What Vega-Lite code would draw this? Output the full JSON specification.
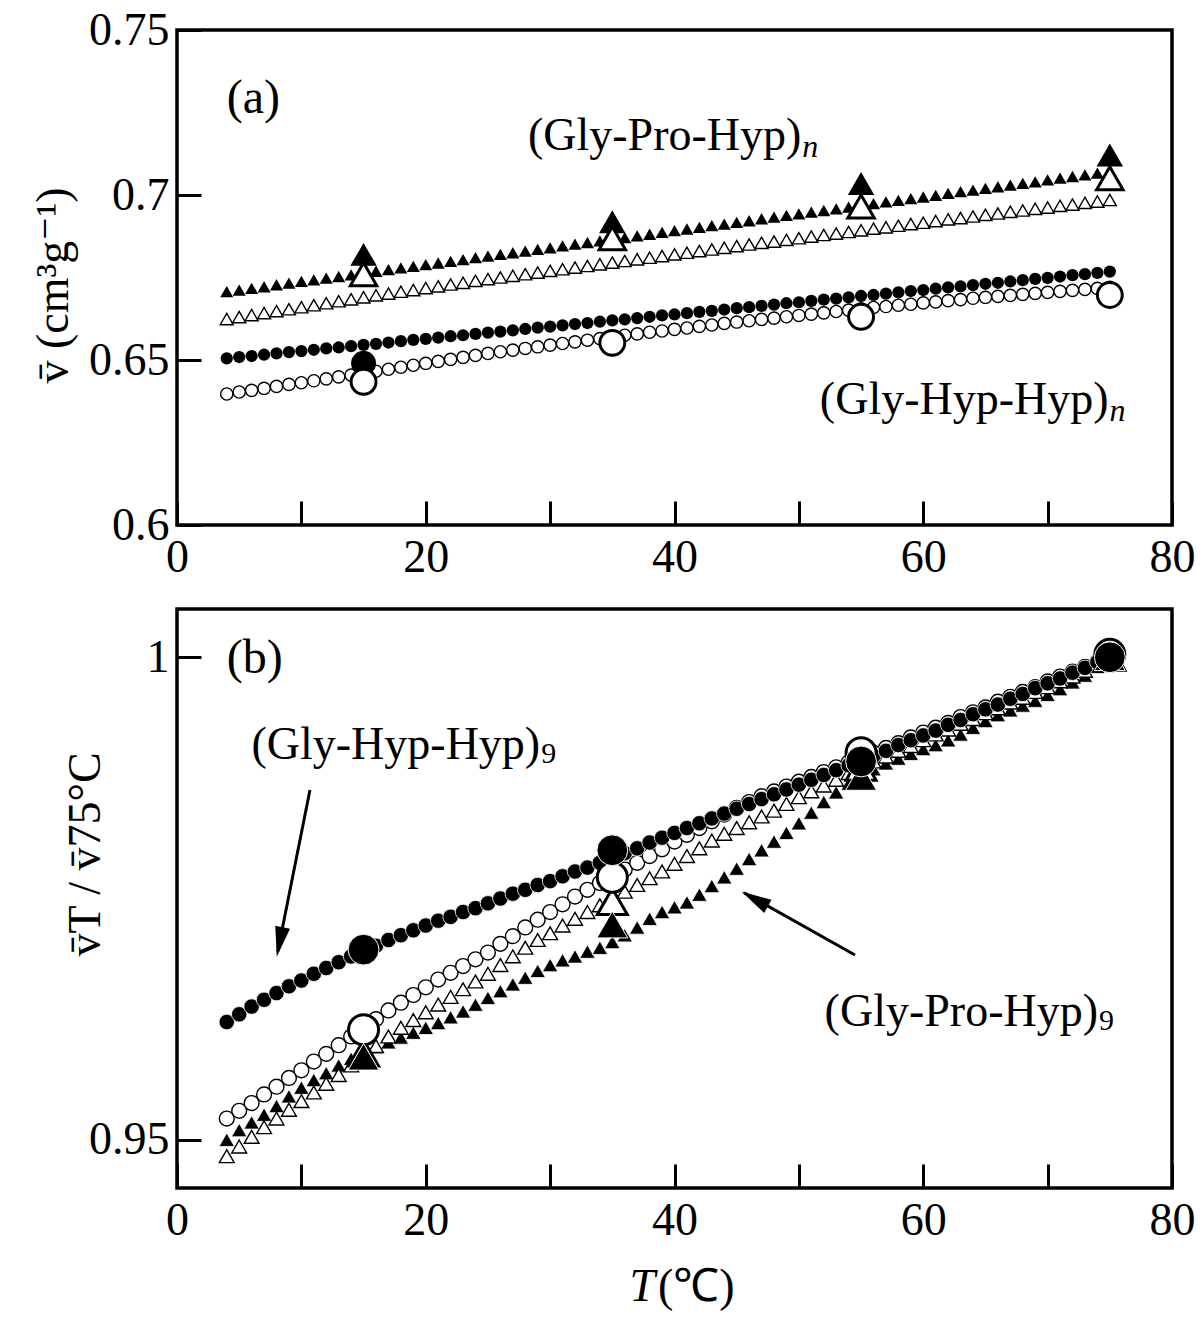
{
"$schema": "https://vega.github.io/schema/vega-lite/v6.json",
"padding": {"left": 28, "top": 5, "right": 5, "bottom": 5},
"background": "white",
"bounds": "flush",
"spacing": 84,
"config": {
  "font": "Liberation Serif",
  "view": {"stroke": "black", "strokeWidth": 3.5},
  "axis": {"domain": false, "grid": false, "labelFont": "Liberation Serif", "labelFontSize": 46, "labelColor": "black", "tickColor": "black", "tickWidth": 3, "titleFont": "Liberation Serif, DejaVu Serif", "titleFontSize": 46, "titleFontWeight": "normal", "titleColor": "black", "labelFlush": false, "labelOverlap": false},
  "text": {"font": "Liberation Serif", "color": "black"}
},
"datasets": {
"one": [{}],
"a": [
{"T":4,"FT":0.6707,"OT":0.6624,"FC":0.6505,"OC":0.6397},
{"T":5,"FT":0.6712,"OT":0.6630,"FC":0.6509,"OC":0.6403},
{"T":6,"FT":0.6717,"OT":0.6636,"FC":0.6512,"OC":0.6408},
{"T":7,"FT":0.6722,"OT":0.6642,"FC":0.6516,"OC":0.6414},
{"T":8,"FT":0.6728,"OT":0.6648,"FC":0.6520,"OC":0.6420},
{"T":9,"FT":0.6733,"OT":0.6654,"FC":0.6524,"OC":0.6426},
{"T":10,"FT":0.6738,"OT":0.6660,"FC":0.6527,"OC":0.6431},
{"T":11,"FT":0.6743,"OT":0.6666,"FC":0.6531,"OC":0.6437},
{"T":12,"FT":0.6748,"OT":0.6672,"FC":0.6535,"OC":0.6443},
{"T":13,"FT":0.6753,"OT":0.6678,"FC":0.6538,"OC":0.6449},
{"T":14,"FT":0.6758,"OT":0.6684,"FC":0.6542,"OC":0.6454},
{"T":15,"FT":0.6763,"OT":0.6690,"FC":0.6546,"OC":0.6460},
{"T":16,"FT":0.6769,"OT":0.6696,"FC":0.6549,"OC":0.6466},
{"T":17,"FT":0.6774,"OT":0.6701,"FC":0.6553,"OC":0.6472},
{"T":18,"FT":0.6779,"OT":0.6707,"FC":0.6557,"OC":0.6478},
{"T":19,"FT":0.6784,"OT":0.6712,"FC":0.6561,"OC":0.6484},
{"T":20,"FT":0.6789,"OT":0.6718,"FC":0.6564,"OC":0.6490},
{"T":21,"FT":0.6794,"OT":0.6723,"FC":0.6568,"OC":0.6496},
{"T":22,"FT":0.6799,"OT":0.6729,"FC":0.6572,"OC":0.6502},
{"T":23,"FT":0.6804,"OT":0.6734,"FC":0.6575,"OC":0.6508},
{"T":24,"FT":0.6810,"OT":0.6740,"FC":0.6579,"OC":0.6514},
{"T":25,"FT":0.6815,"OT":0.6745,"FC":0.6583,"OC":0.6520},
{"T":26,"FT":0.6820,"OT":0.6750,"FC":0.6586,"OC":0.6525},
{"T":27,"FT":0.6825,"OT":0.6755,"FC":0.6590,"OC":0.6530},
{"T":28,"FT":0.6830,"OT":0.6760,"FC":0.6594,"OC":0.6535},
{"T":29,"FT":0.6835,"OT":0.6765,"FC":0.6598,"OC":0.6540},
{"T":30,"FT":0.6840,"OT":0.6770,"FC":0.6601,"OC":0.6545},
{"T":31,"FT":0.6846,"OT":0.6775,"FC":0.6605,"OC":0.6550},
{"T":32,"FT":0.6851,"OT":0.6780,"FC":0.6609,"OC":0.6555},
{"T":33,"FT":0.6856,"OT":0.6785,"FC":0.6612,"OC":0.6560},
{"T":34,"FT":0.6861,"OT":0.6790,"FC":0.6616,"OC":0.6565},
{"T":35,"FT":0.6866,"OT":0.6795,"FC":0.6620,"OC":0.6570},
{"T":36,"FT":0.6871,"OT":0.6800,"FC":0.6623,"OC":0.6575},
{"T":37,"FT":0.6876,"OT":0.6805,"FC":0.6627,"OC":0.6579},
{"T":38,"FT":0.6881,"OT":0.6810,"FC":0.6631,"OC":0.6584},
{"T":39,"FT":0.6887,"OT":0.6815,"FC":0.6635,"OC":0.6588},
{"T":40,"FT":0.6892,"OT":0.6820,"FC":0.6638,"OC":0.6593},
{"T":41,"FT":0.6897,"OT":0.6825,"FC":0.6642,"OC":0.6597},
{"T":42,"FT":0.6902,"OT":0.6830,"FC":0.6646,"OC":0.6602},
{"T":43,"FT":0.6907,"OT":0.6835,"FC":0.6649,"OC":0.6606},
{"T":44,"FT":0.6912,"OT":0.6840,"FC":0.6653,"OC":0.6611},
{"T":45,"FT":0.6917,"OT":0.6845,"FC":0.6657,"OC":0.6615},
{"T":46,"FT":0.6922,"OT":0.6850,"FC":0.6660,"OC":0.6619},
{"T":47,"FT":0.6928,"OT":0.6855,"FC":0.6664,"OC":0.6623},
{"T":48,"FT":0.6933,"OT":0.6859,"FC":0.6668,"OC":0.6627},
{"T":49,"FT":0.6938,"OT":0.6864,"FC":0.6672,"OC":0.6631},
{"T":50,"FT":0.6943,"OT":0.6869,"FC":0.6675,"OC":0.6635},
{"T":51,"FT":0.6948,"OT":0.6874,"FC":0.6679,"OC":0.6639},
{"T":52,"FT":0.6953,"OT":0.6879,"FC":0.6683,"OC":0.6643},
{"T":53,"FT":0.6958,"OT":0.6883,"FC":0.6686,"OC":0.6647},
{"T":54,"FT":0.6963,"OT":0.6888,"FC":0.6690,"OC":0.6651},
{"T":55,"FT":0.6969,"OT":0.6893,"FC":0.6694,"OC":0.6655},
{"T":56,"FT":0.6974,"OT":0.6898,"FC":0.6697,"OC":0.6659},
{"T":57,"FT":0.6979,"OT":0.6902,"FC":0.6701,"OC":0.6662},
{"T":58,"FT":0.6984,"OT":0.6907,"FC":0.6705,"OC":0.6666},
{"T":59,"FT":0.6989,"OT":0.6912,"FC":0.6709,"OC":0.6669},
{"T":60,"FT":0.6994,"OT":0.6916,"FC":0.6712,"OC":0.6673},
{"T":61,"FT":0.6999,"OT":0.6921,"FC":0.6716,"OC":0.6676},
{"T":62,"FT":0.7005,"OT":0.6926,"FC":0.6720,"OC":0.6680},
{"T":63,"FT":0.7010,"OT":0.6930,"FC":0.6723,"OC":0.6683},
{"T":64,"FT":0.7015,"OT":0.6935,"FC":0.6727,"OC":0.6687},
{"T":65,"FT":0.7020,"OT":0.6940,"FC":0.6731,"OC":0.6690},
{"T":66,"FT":0.7025,"OT":0.6944,"FC":0.6734,"OC":0.6693},
{"T":67,"FT":0.7030,"OT":0.6949,"FC":0.6738,"OC":0.6696},
{"T":68,"FT":0.7035,"OT":0.6953,"FC":0.6742,"OC":0.6699},
{"T":69,"FT":0.7040,"OT":0.6958,"FC":0.6746,"OC":0.6702},
{"T":70,"FT":0.7046,"OT":0.6962,"FC":0.6749,"OC":0.6705},
{"T":71,"FT":0.7051,"OT":0.6967,"FC":0.6753,"OC":0.6708},
{"T":72,"FT":0.7056,"OT":0.6971,"FC":0.6757,"OC":0.6711},
{"T":73,"FT":0.7061,"OT":0.6976,"FC":0.6760,"OC":0.6714},
{"T":74,"FT":0.7066,"OT":0.6980,"FC":0.6764,"OC":0.6717},
{"T":75,"FT":0.7071,"OT":0.6985,"FC":0.6768,"OC":0.6720}
],
"aBig": [
{"T":15,"FT":0.6820,"OT":0.6760,"FC":0.6490,"OC":0.6434},
{"T":35,"FT":0.6919,"OT":0.6869,"OC":0.6552},
{"T":55,"FT":0.7035,"OT":0.6965,"OC":0.6631},
{"T":75,"FT":0.7121,"OT":0.7051,"OC":0.6697}
],
"b": [
{"T":4,"FT":0.9500,"OT":0.9483,"FC":0.9622,"OC":0.9522},
{"T":5,"FT":0.9510,"OT":0.9493,"FC":0.9630,"OC":0.9530},
{"T":6,"FT":0.9518,"OT":0.9503,"FC":0.9638,"OC":0.9538},
{"T":7,"FT":0.9526,"OT":0.9513,"FC":0.9645,"OC":0.9547},
{"T":8,"FT":0.9535,"OT":0.9522,"FC":0.9652,"OC":0.9555},
{"T":9,"FT":0.9545,"OT":0.9531,"FC":0.9659,"OC":0.9564},
{"T":10,"FT":0.9554,"OT":0.9540,"FC":0.9665,"OC":0.9572},
{"T":11,"FT":0.9562,"OT":0.9549,"FC":0.9672,"OC":0.9581},
{"T":12,"FT":0.9569,"OT":0.9558,"FC":0.9678,"OC":0.9589},
{"T":13,"FT":0.9577,"OT":0.9567,"FC":0.9684,"OC":0.9598},
{"T":14,"FT":0.9584,"OT":0.9577,"FC":0.9690,"OC":0.9607},
{"T":15,"FT":0.9590,"OT":0.9587,"FC":0.9696,"OC":0.9616},
{"T":16,"FT":0.9596,"OT":0.9597,"FC":0.9701,"OC":0.9625},
{"T":17,"FT":0.9601,"OT":0.9607,"FC":0.9707,"OC":0.9634},
{"T":18,"FT":0.9606,"OT":0.9616,"FC":0.9712,"OC":0.9642},
{"T":19,"FT":0.9611,"OT":0.9624,"FC":0.9717,"OC":0.9650},
{"T":20,"FT":0.9616,"OT":0.9632,"FC":0.9722,"OC":0.9658},
{"T":21,"FT":0.9621,"OT":0.9640,"FC":0.9727,"OC":0.9666},
{"T":22,"FT":0.9627,"OT":0.9648,"FC":0.9731,"OC":0.9673},
{"T":23,"FT":0.9633,"OT":0.9656,"FC":0.9736,"OC":0.9680},
{"T":24,"FT":0.9640,"OT":0.9664,"FC":0.9740,"OC":0.9687},
{"T":25,"FT":0.9647,"OT":0.9672,"FC":0.9745,"OC":0.9694},
{"T":26,"FT":0.9654,"OT":0.9681,"FC":0.9750,"OC":0.9703},
{"T":27,"FT":0.9661,"OT":0.9690,"FC":0.9755,"OC":0.9711},
{"T":28,"FT":0.9668,"OT":0.9699,"FC":0.9759,"OC":0.9720},
{"T":29,"FT":0.9675,"OT":0.9707,"FC":0.9764,"OC":0.9728},
{"T":30,"FT":0.9681,"OT":0.9714,"FC":0.9768,"OC":0.9736},
{"T":31,"FT":0.9686,"OT":0.9722,"FC":0.9773,"OC":0.9744},
{"T":32,"FT":0.9690,"OT":0.9729,"FC":0.9778,"OC":0.9752},
{"T":33,"FT":0.9695,"OT":0.9736,"FC":0.9782,"OC":0.9759},
{"T":34,"FT":0.9699,"OT":0.9743,"FC":0.9787,"OC":0.9766},
{"T":35,"FT":0.9705,"OT":0.9750,"FC":0.9792,"OC":0.9773},
{"T":36,"FT":0.9712,"OT":0.9757,"FC":0.9797,"OC":0.9780},
{"T":37,"FT":0.9720,"OT":0.9764,"FC":0.9802,"OC":0.9787},
{"T":38,"FT":0.9729,"OT":0.9771,"FC":0.9808,"OC":0.9794},
{"T":39,"FT":0.9736,"OT":0.9778,"FC":0.9813,"OC":0.9801},
{"T":40,"FT":0.9741,"OT":0.9786,"FC":0.9818,"OC":0.9809},
{"T":41,"FT":0.9746,"OT":0.9794,"FC":0.9823,"OC":0.9816},
{"T":42,"FT":0.9754,"OT":0.9802,"FC":0.9828,"OC":0.9823},
{"T":43,"FT":0.9763,"OT":0.9810,"FC":0.9833,"OC":0.9830},
{"T":44,"FT":0.9772,"OT":0.9817,"FC":0.9838,"OC":0.9837},
{"T":45,"FT":0.9781,"OT":0.9823,"FC":0.9843,"OC":0.9844},
{"T":46,"FT":0.9791,"OT":0.9829,"FC":0.9848,"OC":0.9850},
{"T":47,"FT":0.9800,"OT":0.9835,"FC":0.9853,"OC":0.9856},
{"T":48,"FT":0.9809,"OT":0.9841,"FC":0.9858,"OC":0.9861},
{"T":49,"FT":0.9818,"OT":0.9848,"FC":0.9863,"OC":0.9866},
{"T":50,"FT":0.9828,"OT":0.9855,"FC":0.9868,"OC":0.9871},
{"T":51,"FT":0.9839,"OT":0.9861,"FC":0.9873,"OC":0.9876},
{"T":52,"FT":0.9850,"OT":0.9867,"FC":0.9878,"OC":0.9881},
{"T":53,"FT":0.9860,"OT":0.9873,"FC":0.9883,"OC":0.9886},
{"T":54,"FT":0.9869,"OT":0.9880,"FC":0.9888,"OC":0.9891},
{"T":55,"FT":0.9877,"OT":0.9886,"FC":0.9893,"OC":0.9896},
{"T":56,"FT":0.9884,"OT":0.9892,"FC":0.9898,"OC":0.9901},
{"T":57,"FT":0.9890,"OT":0.9897,"FC":0.9903,"OC":0.9906},
{"T":58,"FT":0.9895,"OT":0.9903,"FC":0.9909,"OC":0.9911},
{"T":59,"FT":0.9900,"OT":0.9908,"FC":0.9914,"OC":0.9917},
{"T":60,"FT":0.9905,"OT":0.9914,"FC":0.9919,"OC":0.9922},
{"T":61,"FT":0.9909,"OT":0.9920,"FC":0.9924,"OC":0.9927},
{"T":62,"FT":0.9914,"OT":0.9925,"FC":0.9930,"OC":0.9932},
{"T":63,"FT":0.9920,"OT":0.9931,"FC":0.9935,"OC":0.9938},
{"T":64,"FT":0.9927,"OT":0.9936,"FC":0.9941,"OC":0.9943},
{"T":65,"FT":0.9934,"OT":0.9942,"FC":0.9946,"OC":0.9948},
{"T":66,"FT":0.9940,"OT":0.9947,"FC":0.9951,"OC":0.9954},
{"T":67,"FT":0.9945,"OT":0.9953,"FC":0.9957,"OC":0.9959},
{"T":68,"FT":0.9950,"OT":0.9958,"FC":0.9962,"OC":0.9964},
{"T":69,"FT":0.9955,"OT":0.9964,"FC":0.9968,"OC":0.9969},
{"T":70,"FT":0.9961,"OT":0.9969,"FC":0.9973,"OC":0.9975},
{"T":71,"FT":0.9967,"OT":0.9975,"FC":0.9978,"OC":0.9980},
{"T":72,"FT":0.9974,"OT":0.9980,"FC":0.9984,"OC":0.9985},
{"T":73,"FT":0.9981,"OT":0.9986,"FC":0.9989,"OC":0.9990},
{"T":74,"FT":0.9990,"OT":0.9993,"FC":0.9995,"OC":0.9995},
{"T":75,"FT":1.0000,"OT":1.0000,"FC":1.0000,"OC":1.0000}
],
"bBig": [
{"T":15,"FT":0.9586,"OT":0.9590,"FC":0.9697,"OC":0.9614},
{"T":35,"FT":0.9723,"OT":0.9747,"FC":0.9800,"OC":0.9772},
{"T":55,"FT":0.9876,"OT":0.9886,"FC":0.9892,"OC":0.9901},
{"T":75,"FT":1.0000,"OT":1.0000,"FC":1.0000,"OC":1.0003}
]
},
"vconcat": [
{
"width": 995, "height": 495,
"layer": [
{"data": {"name": "a"}, "mark": {"type": "point", "shape": "triangle-up", "filled": true, "fill": "black", "strokeWidth": 0, "size": 170, "opacity": 1},
 "encoding": {
   "x": {"field": "T", "type": "quantitative", "scale": {"domain": [0, 80], "nice": false, "zero": false},
     "axis": {"values": [0,10,20,30,40,50,60,70,80], "tickSize": -24, "encode": {"ticks": {"update": {"y2": {"signal": "datum.value % 20 === 0 ? -24 : -12"}}}}, "labelExpr": "datum.value % 20 === 0 ? datum.label : ''", "labelPadding": 34, "title": null}},
   "y": {"field": "FT", "type": "quantitative", "scale": {"domain": [0.6, 0.75], "nice": false, "zero": false},
   "axis": {"values": [0.6,0.65,0.7,0.75], "format": ".2~f", "tickSize": -24, "labelPadding": 32, "title": "v̄  (cm³g⁻¹)", "titleX": -124, "titleY": 255, "titleBaseline": "middle", "titleAngle": 270}}}},
{"data": {"name": "a"}, "mark": {"type": "point", "shape": "triangle-up", "filled": true, "fill": "white", "stroke": "black", "strokeWidth": 1.4, "size": 170, "opacity": 1},
 "encoding": {"x": {"field": "T", "type": "quantitative"}, "y": {"field": "OT", "type": "quantitative"}}},
{"data": {"name": "a"}, "mark": {"type": "point", "shape": "circle", "filled": true, "fill": "black", "strokeWidth": 0, "size": 150, "opacity": 1},
 "encoding": {"x": {"field": "T", "type": "quantitative"}, "y": {"field": "FC", "type": "quantitative"}}},
{"data": {"name": "a"}, "mark": {"type": "point", "shape": "circle", "filled": true, "fill": "white", "stroke": "black", "strokeWidth": 1.4, "size": 150, "opacity": 1},
 "encoding": {"x": {"field": "T", "type": "quantitative"}, "y": {"field": "OC", "type": "quantitative"}}},
{"data": {"name": "aBig"}, "mark": {"type": "point", "shape": "triangle-up", "filled": true, "fill": "black", "strokeWidth": 0, "size": 700, "opacity": 1},
 "encoding": {"x": {"field": "T", "type": "quantitative"}, "y": {"field": "FT", "type": "quantitative"}}},
{"data": {"name": "aBig"}, "mark": {"type": "point", "shape": "triangle-up", "filled": true, "fill": "white", "stroke": "black", "strokeWidth": 3, "size": 700, "opacity": 1},
 "encoding": {"x": {"field": "T", "type": "quantitative"}, "y": {"field": "OT", "type": "quantitative"}}},
{"data": {"name": "aBig"}, "mark": {"type": "point", "shape": "circle", "filled": true, "fill": "black", "strokeWidth": 0, "size": 620, "opacity": 1},
 "encoding": {"x": {"field": "T", "type": "quantitative"}, "y": {"field": "FC", "type": "quantitative"}}},
{"data": {"name": "aBig"}, "mark": {"type": "point", "shape": "circle", "filled": true, "fill": "white", "stroke": "black", "strokeWidth": 3, "size": 620, "opacity": 1},
 "encoding": {"x": {"field": "T", "type": "quantitative"}, "y": {"field": "OC", "type": "quantitative"}}},
{"data": {"name": "one"}, "mark": {"type": "text", "text": "(a)", "align": "left", "baseline": "middle", "fontSize": 48},
 "encoding": {"x": {"datum": 4.0, "type": "quantitative"}, "y": {"datum": 0.7292, "type": "quantitative"}}},
{"data": {"name": "one"}, "mark": {"type": "text", "text": "(Gly-Pro-Hyp)", "align": "right", "baseline": "middle", "fontSize": 46},
 "encoding": {"x": {"datum": 50.2, "type": "quantitative"}, "y": {"datum": 0.7180, "type": "quantitative"}}},
{"data": {"name": "one"}, "mark": {"type": "text", "text": "n", "align": "left", "baseline": "middle", "fontSize": 32, "fontStyle": "italic", "dx": 1, "dy": 11},
 "encoding": {"x": {"datum": 50.2, "type": "quantitative"}, "y": {"datum": 0.7180, "type": "quantitative"}}},
{"data": {"name": "one"}, "mark": {"type": "text", "text": "(Gly-Hyp-Hyp)", "align": "right", "baseline": "middle", "fontSize": 46},
 "encoding": {"x": {"datum": 74.9, "type": "quantitative"}, "y": {"datum": 0.6378, "type": "quantitative"}}},
{"data": {"name": "one"}, "mark": {"type": "text", "text": "n", "align": "left", "baseline": "middle", "fontSize": 32, "fontStyle": "italic", "dx": 1, "dy": 11},
 "encoding": {"x": {"datum": 74.9, "type": "quantitative"}, "y": {"datum": 0.6378, "type": "quantitative"}}}
]
},
{
"width": 995, "height": 579,
"layer": [
{"data": {"name": "b"}, "mark": {"type": "point", "shape": "triangle-up", "filled": true, "fill": "black", "stroke": "white", "strokeWidth": 0.8, "size": 240, "opacity": 1},
 "encoding": {
   "x": {"field": "T", "type": "quantitative", "scale": {"domain": [0, 80], "nice": false, "zero": false},
     "axis": {"values": [0,10,20,30,40,50,60,70,80], "tickSize": -24, "encode": {"ticks": {"update": {"y2": {"signal": "datum.value % 20 === 0 ? -24 : -12"}}}}, "labelExpr": "datum.value % 20 === 0 ? datum.label : ''", "labelPadding": 34, "title": null}},
   "y": {"field": "FT", "type": "quantitative", "scale": {"domain": [0.945, 1.005], "nice": false, "zero": false},
   "axis": {"values": [0.95, 1], "format": ".2~f", "tickSize": -24, "labelPadding": 32, "title": "v̄T / v̄75°C", "titleX": -92, "titleY": 245, "titleBaseline": "middle", "titleAngle": 270}}}},
{"data": {"name": "b"}, "mark": {"type": "point", "shape": "triangle-up", "filled": true, "fill": "white", "stroke": "black", "strokeWidth": 1.4, "size": 220, "opacity": 1},
 "encoding": {"x": {"field": "T", "type": "quantitative"}, "y": {"field": "OT", "type": "quantitative"}}},
{"data": {"name": "b"}, "mark": {"type": "point", "shape": "circle", "filled": true, "fill": "white", "stroke": "black", "strokeWidth": 1.4, "size": 220, "opacity": 1},
 "encoding": {"x": {"field": "T", "type": "quantitative"}, "y": {"field": "OC", "type": "quantitative"}}},
{"data": {"name": "b"}, "mark": {"type": "point", "shape": "circle", "filled": true, "fill": "black", "stroke": "white", "strokeWidth": 0.8, "size": 240, "opacity": 1},
 "encoding": {"x": {"field": "T", "type": "quantitative"}, "y": {"field": "FC", "type": "quantitative"}}},
{"data": {"name": "bBig"}, "mark": {"type": "point", "shape": "triangle-up", "filled": true, "fill": "white", "stroke": "black", "strokeWidth": 3, "size": 900, "opacity": 1},
 "encoding": {"x": {"field": "T", "type": "quantitative"}, "y": {"field": "OT", "type": "quantitative"}}},
{"data": {"name": "bBig"}, "mark": {"type": "point", "shape": "circle", "filled": true, "fill": "white", "stroke": "black", "strokeWidth": 3, "size": 900, "opacity": 1},
 "encoding": {"x": {"field": "T", "type": "quantitative"}, "y": {"field": "OC", "type": "quantitative"}}},
{"data": {"name": "bBig"}, "mark": {"type": "point", "shape": "triangle-up", "filled": true, "fill": "black", "stroke": "white", "strokeWidth": 1, "size": 950, "opacity": 1},
 "encoding": {"x": {"field": "T", "type": "quantitative"}, "y": {"field": "FT", "type": "quantitative"}}},
{"data": {"name": "bBig"}, "mark": {"type": "point", "shape": "circle", "filled": true, "fill": "black", "stroke": "white", "strokeWidth": 1, "size": 950, "opacity": 1},
 "encoding": {"x": {"field": "T", "type": "quantitative"}, "y": {"field": "FC", "type": "quantitative"}}},
{"data": {"name": "one"}, "mark": {"type": "rule", "strokeWidth": 3, "color": "black"},
 "encoding": {"x": {"datum": 10.69, "type": "quantitative"}, "y": {"datum": 0.98624, "type": "quantitative"}, "x2": {"datum": 8.1}, "y2": {"datum": 0.9695}}},
{"data": {"name": "one"}, "mark": {"type": "point", "shape": "M0,0L-0.25,1L0.25,1Z", "filled": true, "fill": "black", "strokeWidth": 0, "size": 3600, "angle": 191.3, "opacity": 1},
 "encoding": {"x": {"datum": 8.02, "type": "quantitative"}, "y": {"datum": 0.96897, "type": "quantitative"}}},
{"data": {"name": "one"}, "mark": {"type": "rule", "strokeWidth": 3, "color": "black"},
 "encoding": {"x": {"datum": 54.51, "type": "quantitative"}, "y": {"datum": 0.96914, "type": "quantitative"}, "x2": {"datum": 45.6}, "y2": {"datum": 0.9756}}},
{"data": {"name": "one"}, "mark": {"type": "point", "shape": "M0,0L-0.25,1L0.25,1Z", "filled": true, "fill": "black", "strokeWidth": 0, "size": 3600, "angle": 299.2, "opacity": 1},
 "encoding": {"x": {"datum": 45.4, "type": "quantitative"}, "y": {"datum": 0.9757, "type": "quantitative"}}},
{"data": {"name": "one"}, "mark": {"type": "text", "text": "(b)", "align": "left", "baseline": "middle", "fontSize": 48},
 "encoding": {"x": {"datum": 4.0, "type": "quantitative"}, "y": {"datum": 0.9998, "type": "quantitative"}}},
{"data": {"name": "one"}, "mark": {"type": "text", "text": "(Gly-Hyp-Hyp)", "align": "right", "baseline": "middle", "fontSize": 46},
 "encoding": {"x": {"datum": 29.2, "type": "quantitative"}, "y": {"datum": 0.9909, "type": "quantitative"}}},
{"data": {"name": "one"}, "mark": {"type": "text", "text": "9", "align": "left", "baseline": "middle", "fontSize": 30, "dx": 1, "dy": 9},
 "encoding": {"x": {"datum": 29.2, "type": "quantitative"}, "y": {"datum": 0.9909, "type": "quantitative"}}},
{"data": {"name": "one"}, "mark": {"type": "text", "text": "(Gly-Pro-Hyp)", "align": "right", "baseline": "middle", "fontSize": 46},
 "encoding": {"x": {"datum": 74.05, "type": "quantitative"}, "y": {"datum": 0.9632, "type": "quantitative"}}},
{"data": {"name": "one"}, "mark": {"type": "text", "text": "9", "align": "left", "baseline": "middle", "fontSize": 30, "dx": 1, "dy": 9},
 "encoding": {"x": {"datum": 74.05, "type": "quantitative"}, "y": {"datum": 0.9632, "type": "quantitative"}}},
{"data": {"name": "one"}, "mark": {"type": "text", "text": "T", "align": "right", "baseline": "middle", "fontSize": 46, "fontStyle": "italic"},
 "encoding": {"x": {"datum": 38.43, "type": "quantitative"}, "y": {"datum": 0.9347, "type": "quantitative"}}},
{"data": {"name": "one"}, "mark": {"type": "text", "text": "(℃)", "align": "left", "baseline": "middle", "fontSize": 46, "dx": 3},
 "encoding": {"x": {"datum": 38.43, "type": "quantitative"}, "y": {"datum": 0.9347, "type": "quantitative"}}}
]
}
]
}
